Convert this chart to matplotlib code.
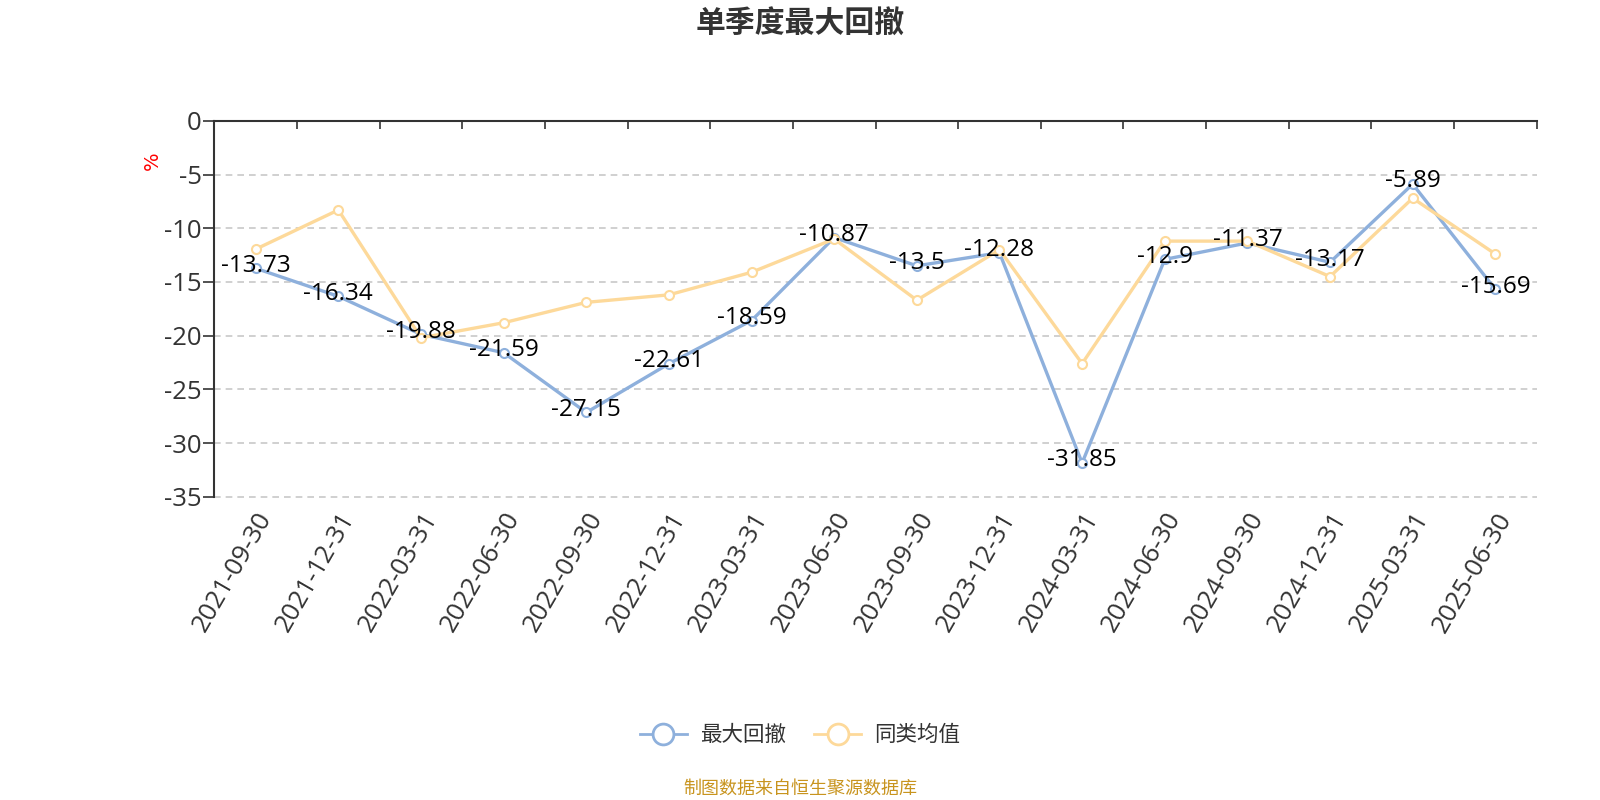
import matplotlib
matplotlib.use("Agg")
import matplotlib.pyplot as plt
from matplotlib.lines import Line2D

plt.rcParams['font.family'] = ['Open Sans', 'Noto Sans CJK SC', 'DejaVu Sans']
plt.rcParams['axes.unicode_minus'] = False
CJK = ['Noto Sans CJK SC', 'DejaVu Sans']

dates = ["2021-09-30", "2021-12-31", "2022-03-31", "2022-06-30", "2022-09-30",
         "2022-12-31", "2023-03-31", "2023-06-30", "2023-09-30", "2023-12-31",
         "2024-03-31", "2024-06-30", "2024-09-30", "2024-12-31", "2025-03-31",
         "2025-06-30"]
max_drawdown = [-13.73, -16.34, -19.88, -21.59, -27.15, -22.61, -18.59, -10.87,
                -13.5, -12.28, -31.85, -12.9, -11.37, -13.17, -5.89, -15.69]
peer_avg = [-11.95, -8.3, -20.2, -18.8, -16.9, -16.2, -14.1, -11.0,
            -16.7, -12.0, -22.6, -11.2, -11.2, -14.5, -7.2, -12.4]
y_ticks = [0, -5, -10, -15, -20, -25, -30, -35]
series_names = ["最大回撤", "同类均值"]

blue = "#8eb0dc"
yellow = "#fdd99a"
text_gray = "#333333"

fig = plt.figure(figsize=(16, 8), dpi=100)
ax = fig.add_axes([0.134, 0.379, 0.9604 - 0.134, 0.849 - 0.379])

x = list(range(len(dates)))
ax.plot(x, max_drawdown, color=blue, lw=2.4, marker='o', ms=6.5,
        mfc='white', mec=blue, mew=1.5, zorder=3, clip_on=False)
ax.plot(x, peer_avg, color=yellow, lw=2.4, marker='o', ms=6.5,
        mfc='white', mec=yellow, mew=1.5, zorder=4, clip_on=False)

for xi, v in zip(x, max_drawdown):
    ax.annotate(f"{v:g}", (xi, v), xytext=(0, 2), textcoords='offset points',
                ha='center', va='center', fontsize=17.5, color='black', zorder=6)

ax.set_xlim(-0.5, len(dates) - 0.5)
ax.set_ylim(-35, 0)
ax.set_yticks(y_ticks)
ax.set_yticklabels([str(t) for t in y_ticks])
ax.tick_params(axis='y', direction='out', length=8, width=1.2, colors=text_gray,
               labelsize=18.5, pad=1)

ax.set_xticks(x)
ax.set_xticklabels(dates, rotation=60, ha='right', va='top', rotation_mode='anchor')
ax.tick_params(axis='x', which='major', length=0, labelsize=18.5, colors=text_gray, pad=8)
ax.set_xticks([i - 0.5 for i in range(len(dates) + 1)], minor=True)
ax.tick_params(axis='x', which='minor', top=True, bottom=False, direction='in',
               length=6, width=1.2, color=text_gray)

for s in ['right', 'bottom']:
    ax.spines[s].set_visible(False)
for s in ['left', 'top']:
    ax.spines[s].set_color(text_gray)
    ax.spines[s].set_linewidth(1.5)

for t in y_ticks[1:]:
    ax.axhline(t, color='#c8c8c8', lw=1.2, ls=(0, (4, 3)), zorder=1, clip_on=False)

fig.text(0.095, 0.799, "%", color='red', fontsize=14, rotation=90,
         ha='center', va='center', family=['DejaVu Sans'])

fig.text(0.5, 0.97, "单季度最大回撤", ha='center', va='center', fontsize=21.5,
         fontweight='bold', color=text_gray, family=CJK)

handles = [Line2D([0], [0], color=blue, lw=2, marker='o', ms=15, mfc='white',
                  mec=blue, mew=2),
           Line2D([0], [0], color=yellow, lw=2, marker='o', ms=15, mfc='white',
                  mec=yellow, mew=2)]
leg = fig.legend(handles, series_names, loc='center', bbox_to_anchor=(0.5, 0.081),
                 ncol=2, frameon=False, handlelength=2.2,
                 columnspacing=1.3, handletextpad=0.6, labelcolor=text_gray,
                 prop={'family': CJK, 'size': 15.5})

fig.text(0.5, 0.014, "制图数据来自恒生聚源数据库", ha='center', va='center',
         fontsize=13, color='#c8941e', family=CJK)

fig.savefig("out.png", dpi=100)
